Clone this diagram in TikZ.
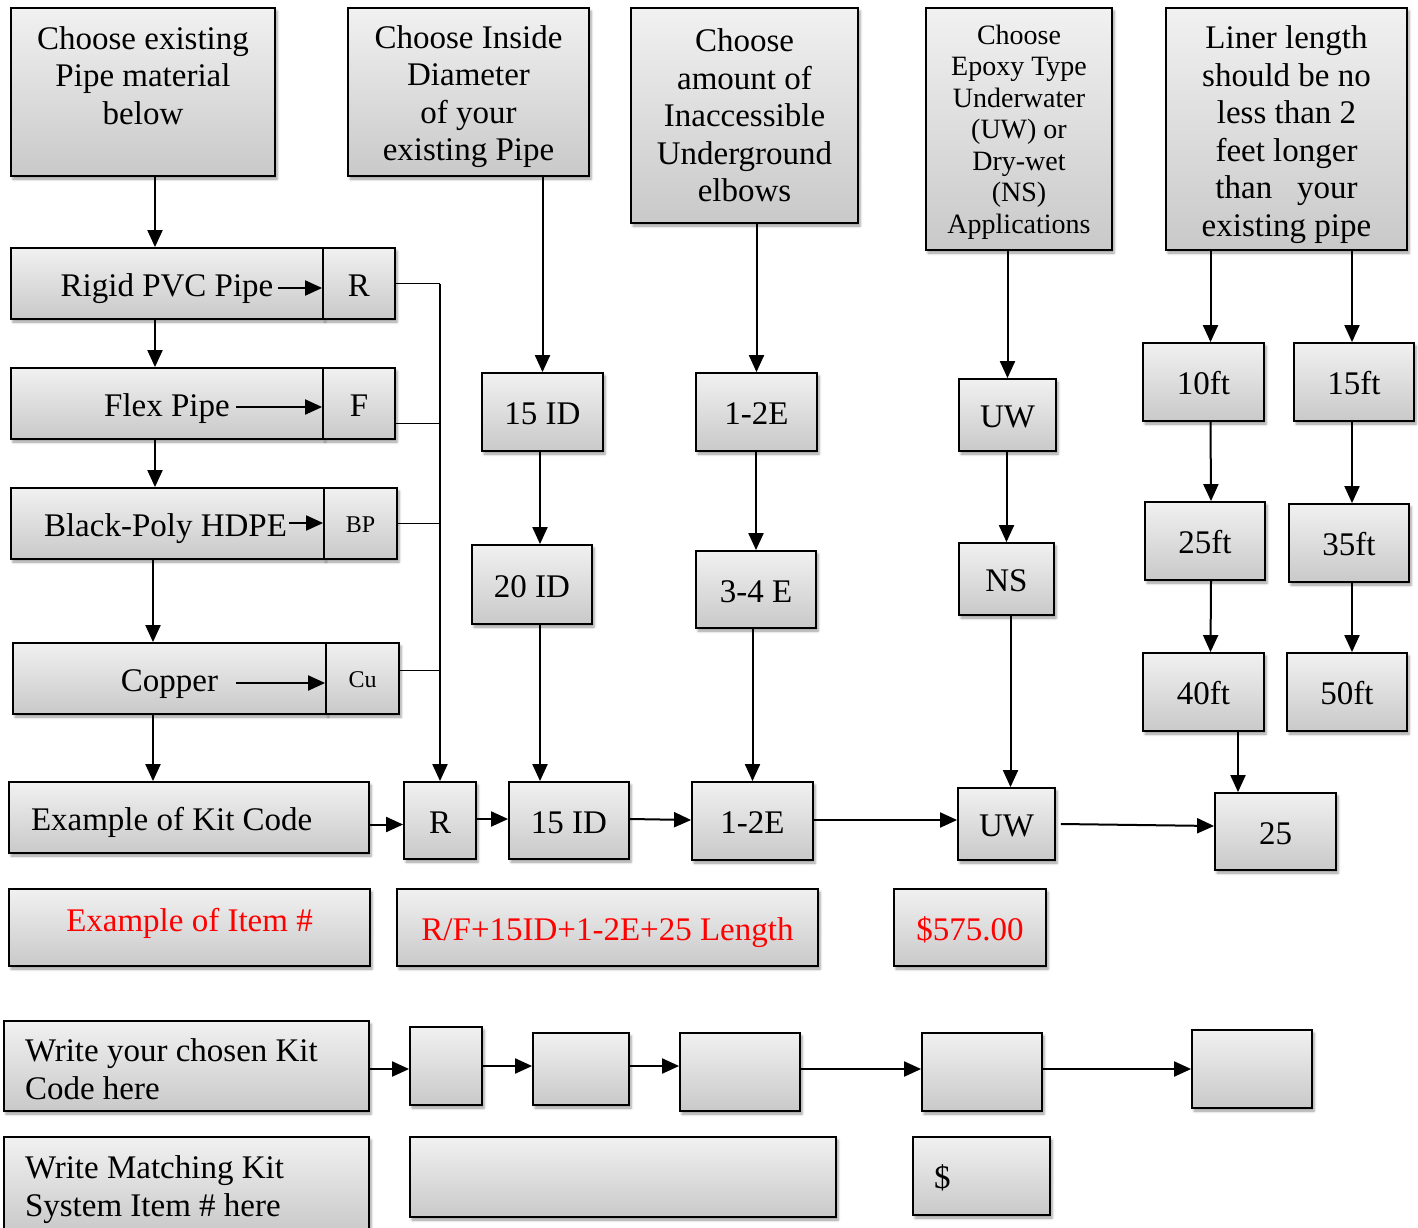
\documentclass[tikz,border=0pt]{standalone}
\usepackage{fontspec}
\setmainfont{Liberation Serif}
\usetikzlibrary{arrows.meta, shadows.blur}
\definecolor{boxTop}{HTML}{F1F1F1}
\definecolor{boxBottom}{HTML}{C9C9C9}
\newcommand{\boxFont}{\fontsize{33}{37.5}\selectfont}
\newcommand{\epoxyFont}{\fontsize{28}{31.5}\selectfont}
\newcommand{\tagFont}{\fontsize{24}{28}\selectfont}
\newcommand{\topGap}[1]{\rule{0pt}{#1}}

\begin{document}
\begin{tikzpicture}[x = 1pt, y = -1pt]
\tikzstyle{boxStyle}=[draw, line width = 1.8pt, top color = boxTop, bottom color = boxBottom, inner sep = 0pt, align = flush center, font = \boxFont, blur shadow = {shadow xshift = 2pt, shadow yshift = -3pt, shadow blur radius = 2.5pt, shadow opacity = 40}]
\tikzstyle{lineStyle}=[boxStyle, text height = 31pt, text depth = 6pt]
\tikzstyle{tagStyle}=[boxStyle, font = \tagFont, text height = 22pt, text depth = 5pt]
\tikzstyle{leftStyle}=[boxStyle, align = flush left]
\tikzstyle{redStyle}=[lineStyle, text = red]
\tikzstyle{arrowStyle}=[line width = 2pt, -{Triangle[length = 17pt, width = 15pt]}]
\tikzstyle{busStyle}=[line width = 0.9pt]
\useasboundingbox (0,0) rectangle (1418,1228);
\node[boxStyle, minimum width = 264pt, minimum height = 168pt] (pipe) at (143,92) {\topGap{26.5pt}Choose existing\\Pipe material\\below\\\mbox{}};
\node[boxStyle, minimum width = 241pt, minimum height = 168pt] (diam) at (468.5,92) {\topGap{32.5pt}Choose Inside\\Diameter\\of your\\existing Pipe};
\node[boxStyle, minimum width = 227pt, minimum height = 215pt] (elbow) at (744.5,115.5) {Choose\\amount of\\Inaccessible\\Underground\\elbows};
\node[boxStyle, font = \epoxyFont, minimum width = 186pt, minimum height = 242pt] (epoxy) at (1019,129) {\topGap{25pt}Choose\\Epoxy Type\\Underwater\\(UW) or\\Dry-wet\\(NS)\\Applications};
\node[boxStyle, minimum width = 241pt, minimum height = 242pt] (liner) at (1286.5,129) {\topGap{34.5pt}Liner length\\should be no\\less than 2\\feet longer\\than~~ your\\existing pipe};
\node[lineStyle, minimum width = 312pt, minimum height = 71pt] (rigid) at (167,283.5) {Rigid PVC Pipe};
\node[lineStyle, minimum width = 72pt, minimum height = 71pt] (rigidTag) at (359,283.5) {R};
\node[lineStyle, minimum width = 312pt, minimum height = 71pt] (flex) at (167,403.5) {Flex Pipe};
\node[lineStyle, minimum width = 72pt, minimum height = 71pt] (flexTag) at (359,403.5) {F};
\node[lineStyle, minimum width = 313pt, minimum height = 71pt] (hdpe) at (167.5,523.5) {Black-Poly HDPE\hspace{4pt}};
\node[tagStyle, minimum width = 73pt, minimum height = 71pt] (hdpeTag) at (360.5,523.5) {BP};
\node[lineStyle, minimum width = 313pt, minimum height = 71pt] (copper) at (169.5,678.5) {Copper};
\node[tagStyle, minimum width = 73pt, minimum height = 71pt] (copperTag) at (362.5,678.5) {Cu};
\node[leftStyle, text height = 31pt, text depth = 6pt, text width = 316pt, minimum width = 360pt, minimum height = 71pt] (kit) at (189,817.5) {Example of Kit Code};
\node[lineStyle, minimum width = 72pt, minimum height = 77pt] (kitR) at (440,820.5) {R};
\node[lineStyle, minimum width = 120pt, minimum height = 77pt] (kitID) at (569,820.5) {15 ID};
\node[lineStyle, minimum width = 121pt, minimum height = 78pt] (kitE) at (752.5,821) {1-2E};
\node[lineStyle, minimum width = 97pt, minimum height = 72pt] (kitUW) at (1006.5,824) {UW};
\node[lineStyle, minimum width = 121pt, minimum height = 77pt] (kitLen) at (1275.5,831.5) {25};
\node[lineStyle, minimum width = 121pt, minimum height = 78pt] (idA) at (542.5,412) {15 ID};
\node[lineStyle, minimum width = 120pt, minimum height = 79pt] (idB) at (532,584.5) {20 ID};
\node[lineStyle, minimum width = 121pt, minimum height = 78pt] (elbowA) at (756.5,412) {1-2E};
\node[lineStyle, minimum width = 120pt, minimum height = 77pt] (elbowB) at (756,589.5) {3-4 E};
\node[lineStyle, minimum width = 97pt, minimum height = 72pt] (epoxyA) at (1007.5,415) {UW};
\node[lineStyle, minimum width = 95pt, minimum height = 72pt] (epoxyB) at (1006.5,579) {NS};
\node[lineStyle, minimum width = 121pt, minimum height = 78pt] (ft10) at (1203.5,382) {10ft};
\node[lineStyle, minimum width = 120pt, minimum height = 78pt] (ft25) at (1205,541) {25ft};
\node[lineStyle, minimum width = 121pt, minimum height = 78pt] (ft40) at (1203.5,692) {40ft};
\node[lineStyle, minimum width = 120pt, minimum height = 78pt] (ft15) at (1354,382) {15ft};
\node[lineStyle, minimum width = 120pt, minimum height = 78pt] (ft35) at (1349,543) {35ft};
\node[lineStyle, minimum width = 120pt, minimum height = 78pt] (ft50) at (1347,692) {50ft};
\node[redStyle, text height = 22pt, text depth = 15pt, minimum width = 361pt, minimum height = 77pt] (item) at (189.5,927.5) {Example of Item \#};
\node[redStyle, minimum width = 421pt, minimum height = 77pt] (itemCode) at (607.5,927.5) {R/F+15ID+1-2E+25 Length};
\node[redStyle, minimum width = 152pt, minimum height = 77pt] (itemPrice) at (970,927.5) {\$575.00};
\node[leftStyle, text width = 323pt, minimum width = 365pt, minimum height = 90pt] (write) at (186.5,1066) {\topGap{29.5pt}Write your chosen Kit\\Code here};
\node[boxStyle, minimum width = 72pt, minimum height = 78pt] (writeA) at (446,1066) {};
\node[boxStyle, minimum width = 96pt, minimum height = 72pt] (writeB) at (581,1069) {};
\node[boxStyle, minimum width = 120pt, minimum height = 78pt] (writeC) at (740,1072) {};
\node[boxStyle, minimum width = 120pt, minimum height = 78pt] (writeD) at (982,1072) {};
\node[boxStyle, minimum width = 120pt, minimum height = 78pt] (writeE) at (1252,1069) {};
\node[leftStyle, text width = 323pt, minimum width = 365pt, minimum height = 96pt] (match) at (186.5,1185) {\topGap{32.5pt}Write Matching Kit\\System Item \# here};
\node[boxStyle, minimum width = 426pt, minimum height = 80pt] (matchA) at (623,1177) {};
\node[leftStyle, text height = 31pt, text depth = 6pt, text width = 95pt, minimum width = 137pt, minimum height = 78pt] (matchB) at (981.5,1176) {\$};
\coordinate (rigidArrow) at (278,288);
\coordinate (flexArrow) at (236,407);
\coordinate (hdpeArrow) at (289,523);
\coordinate (copperArrow) at (236,683);
\draw[arrowStyle] (rigidArrow) -- (rigidArrow -| rigidTag.west);
\draw[arrowStyle] (flexArrow) -- (flexArrow -| flexTag.west);
\draw[arrowStyle] (hdpeArrow) -- (hdpeArrow -| hdpeTag.west);
\draw[arrowStyle] (copperArrow) -- (copperArrow -| copperTag.west);
\draw[arrowStyle] ([xshift = 12pt]pipe.south) -- ([xshift = 12pt]pipe.south |- rigid.north);
\draw[arrowStyle] ([xshift = -12pt]rigid.south) -- ([xshift = -12pt]rigid.south |- flex.north);
\draw[arrowStyle] ([xshift = -12pt]flex.south) -- ([xshift = -12pt]flex.south |- hdpe.north);
\draw[arrowStyle] ([xshift = -14.5pt]hdpe.south) -- ([xshift = -14.5pt]hdpe.south |- copper.north);
\draw[arrowStyle] ([xshift = -16.5pt]copper.south) -- ([xshift = -16.5pt]copper.south |- kit.north);
\draw[busStyle] (rigidTag.east) -- (rigidTag.east -| kitR.north);
\draw[busStyle] ([yshift = -19.5pt]flexTag.east) -- ([yshift = -19.5pt]flexTag.east -| kitR.north);
\draw[busStyle] (hdpeTag.east) -- (hdpeTag.east -| kitR.north);
\draw[busStyle] ([yshift = 8.5pt]copperTag.east) -- ([yshift = 8.5pt]copperTag.east -| kitR.north);
\draw[arrowStyle] (rigidTag.east -| kitR.north) -- (kitR.north);
\draw[arrowStyle] (diam.south -| idA.north) -- (idA.north);
\draw[arrowStyle] ([xshift = 8pt]idB.north |- idA.south) -- ([xshift = 8pt]idB.north);
\draw[arrowStyle] ([xshift = 8pt]idB.south) -- ([xshift = 8pt]idB.south |- kitID.north);
\draw[arrowStyle] (elbow.south -| elbowA.north) -- (elbowA.north);
\draw[arrowStyle] (elbowA.south -| elbowB.north) -- (elbowB.north);
\draw[arrowStyle] (elbowB.south -| kitE.north) -- (kitE.north);
\draw[arrowStyle] (epoxy.south -| epoxyA.north) -- (epoxyA.north);
\draw[arrowStyle] (epoxyA.south -| epoxyB.north) -- (epoxyB.north);
\draw[arrowStyle] ([xshift = 4pt]epoxyB.south) -- ([xshift = 4pt]epoxyB.south |- kitUW.north);
\draw[arrowStyle] ([xshift = 7pt]ft10.north |- liner.south) -- ([xshift = 7pt]ft10.north);
\draw[arrowStyle] ([xshift = -2pt]ft15.north |- liner.south) -- ([xshift = -2pt]ft15.north);
\draw[arrowStyle] ([xshift = 7pt]ft10.south) -- ([xshift = 6pt]ft25.north);
\draw[arrowStyle] ([xshift = 6pt]ft25.south) -- ([xshift = 7pt]ft40.north);
\draw[arrowStyle] ([xshift = -2pt]ft15.south) -- ([xshift = 3pt]ft35.north);
\draw[arrowStyle] ([xshift = 3pt]ft35.south) -- ([xshift = 5pt]ft50.north);
\draw[arrowStyle] ([xshift = 34.5pt]ft40.south) -- ([xshift = 34.5pt]ft40.south |- kitLen.north);
\draw[arrowStyle] ([yshift = -7pt]kit.east) -- ([yshift = -4pt]kitR.west);
\draw[arrowStyle] ([yshift = 1.5pt]kitR.east) -- ([yshift = 1.5pt]kitID.west);
\draw[arrowStyle] ([yshift = 1.5pt]kitID.east) -- ([yshift = 1pt]kitE.west);
\draw[arrowStyle] ([yshift = 1pt]kitE.east) -- ([yshift = 1pt]kitE.east -| kitUW.west);
\draw[arrowStyle] ([xshift = 5pt]kitUW.east) -- ([yshift = 5.5pt]kitLen.west);
\draw[arrowStyle] ([yshift = -3pt]write.east) -- ([yshift = -3pt]write.east -| writeA.west);
\draw[arrowStyle] (writeA.east) -- (writeA.east -| writeB.west);
\draw[arrowStyle] (writeA.east -| writeB.east) -- (writeA.east -| writeC.west);
\draw[arrowStyle] ([yshift = 3pt]writeC.east) -- ([yshift = 3pt]writeD.west);
\draw[arrowStyle] ([yshift = 3pt]writeD.east) -- ([yshift = 0pt]writeE.west);
\end{tikzpicture}
\end{document}
